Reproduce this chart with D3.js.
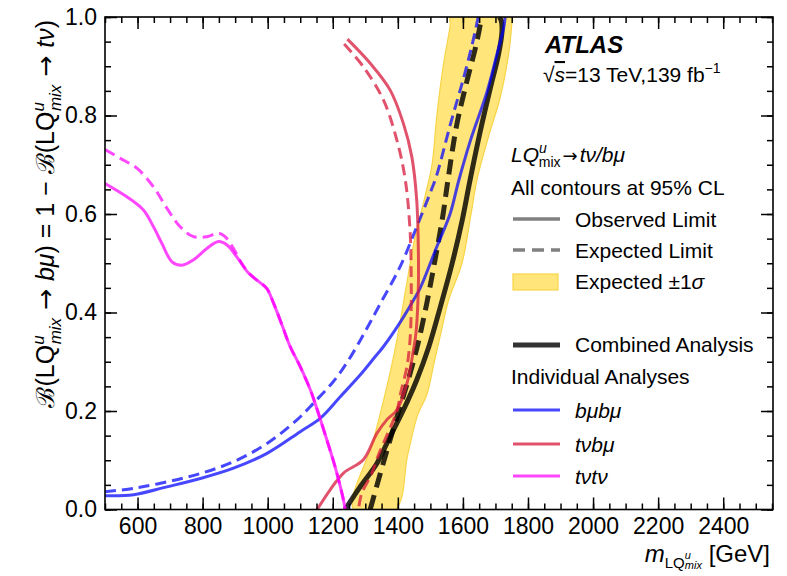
<!DOCTYPE html>
<html>
<head>
<meta charset="utf-8">
<script src="https://cdn.jsdelivr.net/npm/d3@7"></script>
<style>
  body { margin: 0; background: #fff; }
  text { font-family: "Liberation Sans", Arial, sans-serif; fill: #000; }
  .arrow { font-family: "DejaVu Sans", sans-serif; }
</style>
</head>
<body>
<script>
// tick labels
var xTickLabels = [600, 800, 1000, 1200, 1400, 1600, 1800, 2000, 2200, 2400];
var yTickLabels = [0.0, 0.2, 0.4, 0.6, 0.8, 1.0];

// contours: [mass in GeV, B(LQ -> b mu)]
var bandLeft = [[1264,0],[1325,0.141],[1376,0.277],[1397,0.344],[1425,0.45],[1452,0.55],[1485,0.64],[1505,0.70],[1520,0.801],[1540,0.903],[1561,0.984],[1562,1.0]];
var bandRight = [[1392,0],[1430,0.11],[1460,0.19],[1490,0.235],[1512,0.30],[1533,0.36],[1556,0.425],[1597,0.50],[1625,0.60],[1643,0.669],[1680,0.76],[1714,0.835],[1740,0.923],[1750,0.984],[1751,1.0]];

var combinedObs = [[1238,0],[1284,0.046],[1336,0.094],[1376,0.148],[1417,0.202],[1458,0.263],[1495,0.330],[1530,0.410],[1567,0.500],[1598,0.588],[1622,0.669],[1653,0.767],[1684,0.855],[1709,0.923],[1720,0.970],[1718,0.992],[1712,1.0]];
var combinedExp = [[1315,0],[1346,0.073],[1376,0.141],[1407,0.209],[1438,0.277],[1463,0.340],[1489,0.419],[1518,0.520],[1538,0.595],[1554,0.669],[1581,0.781],[1612,0.869],[1638,0.936],[1653,0.984],[1656,1.0]];

var bmubmuObs = [[500,0.028],[588,0.030],[690,0.046],[793,0.063],[895,0.084],[998,0.114],[1100,0.158],[1161,0.185],[1223,0.229],[1284,0.273],[1330,0.310],[1356,0.331],[1407,0.380],[1448,0.425],[1469,0.450],[1520,0.534],[1561,0.601],[1586,0.665],[1622,0.747],[1674,0.848],[1704,0.923],[1725,0.977],[1730,1.0]];
var bmubmuExp = [[500,0.036],[588,0.043],[690,0.056],[793,0.073],[895,0.097],[998,0.134],[1090,0.182],[1141,0.216],[1202,0.260],[1250,0.305],[1300,0.362],[1346,0.418],[1407,0.493],[1458,0.574],[1499,0.642],[1520,0.680],[1561,0.781],[1602,0.876],[1628,0.943],[1643,0.987],[1647,1.0]];

var tnubmuObs = [[1245,0.955],[1315,0.906],[1376,0.852],[1417,0.784],[1443,0.716],[1458,0.628],[1463,0.527],[1463,0.45],[1456,0.36],[1448,0.324],[1428,0.256],[1397,0.202],[1366,0.182],[1336,0.155],[1294,0.101],[1233,0.074],[1192,0.040],[1152,0]];
var tnubmuExp = [[1235,0.945],[1294,0.899],[1356,0.831],[1397,0.750],[1423,0.669],[1438,0.561],[1441,0.47],[1441,0.40],[1437,0.34],[1428,0.29],[1410,0.24],[1397,0.20],[1366,0.150],[1340,0.11],[1318,0.07],[1289,0.033],[1279,0]];

var tnutnuObs = [[500,0.662],[567,0.635],[618,0.608],[649,0.574],[675,0.540],[706,0.503],[736,0.496],[772,0.507],[813,0.530],[849,0.544],[875,0.537],[905,0.513],[941,0.480],[972,0.463],[997,0.449],[1018,0.419],[1046,0.371],[1069,0.331],[1100,0.290],[1131,0.243],[1156,0.195],[1182,0.141],[1207,0.087],[1233,0.019],[1238,0]];
var tnutnuExp = [[500,0.731],[547,0.713],[598,0.693],[649,0.655],[690,0.612],[731,0.574],[772,0.554],[813,0.554],[849,0.561],[869,0.554],[895,0.530],[920,0.500],[945,0.478],[972,0.463],[997,0.449],[1018,0.419],[1046,0.371],[1069,0.331],[1100,0.290],[1131,0.243],[1156,0.195],[1182,0.141],[1207,0.087],[1233,0.019],[1238,0]];

// colours
var cBlue = "rgba(0,0,255,0.72)",
    cRed = "rgba(215,25,60,0.75)",
    cMag = "rgba(255,0,255,0.72)",
    cBlack = "rgba(0,0,0,0.82)",
    cBand = "rgb(255,229,122)",
    cBandEdge = "rgb(248,212,70)";

var margin = {top: 17, right: 14, bottom: 66.5, left: 105},
    width = 787 - margin.left - margin.right,
    height = 576 - margin.top - margin.bottom;

var x = d3.scaleLinear().domain([500, 2553]).range([0, width]);
var y = d3.scaleLinear().domain([0, 1]).range([height, 0]);

var svg = d3.select("body").append("svg")
    .attr("width", 787)
    .attr("height", 576);

var g = svg.append("g")
    .attr("transform", "translate(" + margin.left + "," + margin.top + ")");

g.append("clipPath").attr("id", "clip")
  .append("rect").attr("width", width).attr("height", height);

var plot = g.append("g").attr("clip-path", "url(#clip)");

var contour = d3.line()
    .x(function(d) { return x(d[0]); })
    .y(function(d) { return y(d[1]); })
    .curve(d3.curveCatmullRom.alpha(0.5));

// expected +-1 sigma band
plot.append("path")
    .attr("d", d3.line()
        .x(function(d) { return x(d[0]); })
        .y(function(d) { return y(d[1]); })
        .curve(d3.curveCatmullRomClosed.alpha(0.5))(bandLeft.concat(bandRight.slice().reverse())))
    .attr("fill", cBand)
    .attr("stroke", cBandEdge)
    .attr("stroke-width", 1.2);

function drawLine(data, color, w, dash) {
  plot.append("path")
      .datum(data)
      .attr("d", contour)
      .attr("fill", "none")
      .attr("stroke", color)
      .attr("stroke-width", w)
      .attr("stroke-dasharray", dash || null);
}

drawLine(combinedExp, cBlack, 5, "15,8");
drawLine(combinedObs, cBlack, 5);
drawLine(bmubmuExp, cBlue, 3, "11,6");
drawLine(bmubmuObs, cBlue, 3);
drawLine(tnubmuExp, cRed, 3, "11,6");
drawLine(tnubmuObs, cRed, 3);
drawLine(tnutnuExp, cMag, 3, "11,6");
drawLine(tnutnuObs, cMag, 3);

// axes, ticks pointing inwards on all four sides
var xMinor = d3.range(500, 2551, 50);
var yMinor = d3.range(0, 1.0001, 0.05);

function styleAxis(sel) {
  sel.select(".domain").remove();
  sel.selectAll("line").attr("stroke", "#000").attr("stroke-width", 1.5);
  sel.selectAll("text").attr("font-size", 23).attr("font-family", "Liberation Sans, Arial, sans-serif");
}

g.append("g").attr("transform", "translate(0," + height + ")")
    .call(d3.axisBottom(x).tickValues(xMinor).tickSize(-6).tickFormat(""))
    .call(styleAxis);
g.append("g").attr("transform", "translate(0," + height + ")")
    .call(d3.axisBottom(x).tickValues(xTickLabels).tickSize(-12).tickPadding(8).tickFormat(d3.format("d")))
    .call(styleAxis);
g.append("g")
    .call(d3.axisTop(x).tickValues(xMinor).tickSize(-6).tickFormat(""))
    .call(styleAxis);
g.append("g")
    .call(d3.axisTop(x).tickValues(xTickLabels).tickSize(-12).tickFormat(""))
    .call(styleAxis);

g.append("g")
    .call(d3.axisLeft(y).tickValues(yMinor).tickSize(-6).tickFormat(""))
    .call(styleAxis);
g.append("g")
    .call(d3.axisLeft(y).tickValues(yTickLabels).tickSize(-12).tickPadding(8).tickFormat(d3.format(".1f")))
    .call(styleAxis);
g.append("g").attr("transform", "translate(" + width + ",0)")
    .call(d3.axisRight(y).tickValues(yMinor).tickSize(-6).tickFormat(""))
    .call(styleAxis);
g.append("g").attr("transform", "translate(" + width + ",0)")
    .call(d3.axisRight(y).tickValues(yTickLabels).tickSize(-12).tickFormat(""))
    .call(styleAxis);

// frame
g.append("rect")
    .attr("width", width).attr("height", height)
    .attr("fill", "none").attr("stroke", "#000").attr("stroke-width", 1.6);

// x axis title
var xt = svg.append("text")
    .attr("x", 770).attr("y", 562)
    .attr("text-anchor", "end")
    .attr("font-size", 24);
xt.append("tspan").attr("font-style", "italic").text("m");
xt.append("tspan").attr("font-size", 15).attr("dy", 6).text("LQ");
xt.append("tspan").attr("font-size", 11).attr("font-style", "italic").attr("dy", -9).text("u");
xt.append("tspan").attr("font-size", 11).attr("font-style", "italic").attr("dx", -6).attr("dy", 10).text("mix");
xt.append("tspan").attr("dy", -7).text(" [GeV]");

// y axis title
var yt = svg.append("text")
    .attr("transform", "translate(54,20) rotate(-90)")
    .attr("text-anchor", "end")
    .attr("font-size", 25);
function lqMix(t) {
  t.append("tspan").text("LQ");
  t.append("tspan").attr("font-size", 17).attr("font-style", "italic").attr("dy", -10).text("u");
  t.append("tspan").attr("font-size", 17).attr("font-style", "italic").attr("dx", -9).attr("dy", 17).text("mix");
}
yt.append("tspan").text("\u212C");
yt.append("tspan").text("(");
lqMix(yt);
yt.append("tspan").attr("class", "arrow").attr("dy", -7).text(" \u2192 ");
yt.append("tspan").attr("font-style", "italic").text("b\u03BC");
yt.append("tspan").text(") = 1 \u2212 ");
yt.append("tspan").text("\u212C");
yt.append("tspan").text("(");
lqMix(yt);
yt.append("tspan").attr("class", "arrow").attr("dy", -7).text(" \u2192 ");
yt.append("tspan").attr("font-style", "italic").text("t\u03BD");
yt.append("tspan").text(")");

// ATLAS label
svg.append("text").attr("x", 545).attr("y", 53)
    .attr("font-size", 24).attr("font-weight", "bold").attr("font-style", "italic")
    .text("ATLAS");
var en = svg.append("text").attr("x", 543).attr("y", 82).attr("font-size", 21);
en.append("tspan").text("\u221A");
en.append("tspan").attr("font-style", "italic").style("text-decoration", "overline").text("s");
en.append("tspan").text("=13 TeV,139 fb");
en.append("tspan").attr("font-size", 14).attr("dy", -9).text("\u22121");

// legend
var legX = 511, symX0 = 513, symX1 = 560, textX = 575;
var lq = svg.append("text").attr("x", legX).attr("y", 162).attr("font-size", 21);
lq.append("tspan").attr("font-style", "italic").text("LQ");
lq.append("tspan").attr("font-size", 14).attr("font-style", "italic").attr("dy", -9).text("u");
lq.append("tspan").attr("font-size", 14).attr("dx", -8).attr("dy", 14).text("mix");
lq.append("tspan").attr("class", "arrow").attr("font-size", 18).attr("dx", 2).attr("dy", -5).text("\u2192");
lq.append("tspan").attr("font-style", "italic").attr("dx", 2).text("t\u03BD/b\u03BC");

svg.append("text").attr("x", legX).attr("y", 195).attr("font-size", 21).text("All contours at 95% CL");

var styleEntries = [
  {label: "Observed Limit", y: 219, dash: null},
  {label: "Expected Limit", y: 250, dash: "12,7"}
];
styleEntries.forEach(function(e) {
  svg.append("line").attr("x1", symX0).attr("x2", symX1).attr("y1", e.y).attr("y2", e.y)
      .attr("stroke", "#808080").attr("stroke-width", 3.5).attr("stroke-dasharray", e.dash);
  svg.append("text").attr("x", textX).attr("y", e.y + 7.5).attr("font-size", 21).text(e.label);
});
svg.append("rect").attr("x", symX0).attr("y", 274).attr("width", 45).attr("height", 16)
    .attr("fill", cBand).attr("stroke", cBandEdge).attr("stroke-width", 1.2);
var es = svg.append("text").attr("x", textX).attr("y", 289).attr("font-size", 21);
es.append("tspan").text("Expected \u00B11");
es.append("tspan").attr("font-style", "italic").text("\u03C3");

svg.append("line").attr("x1", symX0).attr("x2", symX1).attr("y1", 345).attr("y2", 345)
    .attr("stroke", "#333").attr("stroke-width", 5);
svg.append("text").attr("x", textX).attr("y", 352).attr("font-size", 21).text("Combined Analysis");
svg.append("text").attr("x", legX).attr("y", 384).attr("font-size", 21).text("Individual Analyses");

var channels = [
  {label: "b\u03BCb\u03BC", color: cBlue, y: 410},
  {label: "t\u03BDb\u03BC", color: cRed, y: 444},
  {label: "t\u03BDt\u03BD", color: cMag, y: 476}
];
channels.forEach(function(c) {
  svg.append("line").attr("x1", symX0).attr("x2", symX1).attr("y1", c.y).attr("y2", c.y)
      .attr("stroke", c.color).attr("stroke-width", 3);
  svg.append("text").attr("x", textX).attr("y", c.y + 7.5).attr("font-size", 21)
      .attr("font-style", "italic").text(c.label);
});
</script>
</body>
</html>
